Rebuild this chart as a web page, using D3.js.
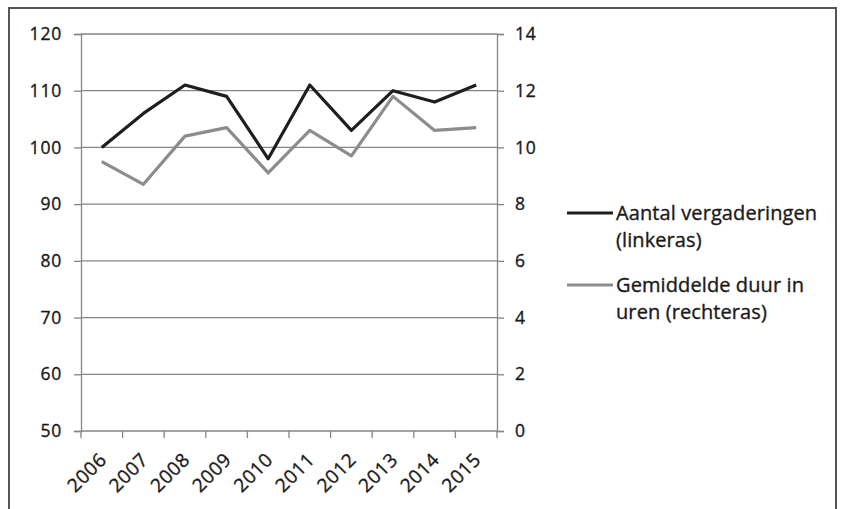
<!DOCTYPE html>
<html>
<head>
<meta charset="utf-8">
<script src="https://cdn.jsdelivr.net/npm/d3@7"></script>
<style>
  body { margin: 0; background: #fff; }
  svg { display: block; }
</style>
</head>
<body>
<div id="chart"></div>
<script>
// Jaren (categorieën)
const years = ['2006', '2007', '2008', '2009', '2010', '2011', '2012', '2013', '2014', '2015'];
// Aantal vergaderingen (linkeras)
const meetings = [100, 106, 111, 109, 98, 111, 103, 110, 108, 111];
// Gemiddelde duur in uren (rechteras)
const duration = [9.5, 8.7, 10.4, 10.7, 9.1, 10.6, 9.7, 11.8, 10.6, 10.7];
const leftTicks = [50, 60, 70, 80, 90, 100, 110, 120];
const rightTicks = [0, 2, 4, 6, 8, 10, 12, 14];

const W = 846, H = 509;
const FONT = '"Open Sans", Lato, sans-serif';
const COL = { ink: '#1a1a1a', grid: '#858585', dark: '#1e1e1e', light: '#8c8c8c' };

const svg = d3.select('#chart').append('svg')
  .attr('width', W).attr('height', H)
  .attr('viewBox', `0 0 ${W} ${H}`);

// Kader rond de grafiek
svg.append('rect')
  .attr('x', 9).attr('y', 8).attr('width', 827).attr('height', 520)
  .attr('fill', '#fff').attr('stroke', '#555').attr('stroke-width', 2);

const plot = { left: 81, right: 497, top: 34, bottom: 431 };

const x = d3.scaleBand().domain(years).range([plot.left, plot.right]);
const yL = d3.scaleLinear().domain([50, 120]).range([plot.bottom, plot.top]);
const yR = d3.scaleLinear().domain([0, 14]).range([plot.bottom, plot.top]);

// Rasterlijnen
svg.append('g').selectAll('line').data(leftTicks).join('line')
  .attr('x1', plot.left).attr('x2', plot.right)
  .attr('y1', d => yL(d)).attr('y2', d => yL(d))
  .attr('stroke', COL.grid).attr('stroke-width', 1.3);

// Linkeras
const gL = svg.append('g').attr('transform', `translate(${plot.left},0)`)
  .call(d3.axisLeft(yL).tickValues(leftTicks).tickSize(7).tickPadding(12));
// Rechteras
const gR = svg.append('g').attr('transform', `translate(${plot.right},0)`)
  .call(d3.axisRight(yR).tickValues(rightTicks).tickSize(7).tickPadding(11));
// X-as
const xTickPos = d3.range(years.length + 1).map(i => plot.left + i * x.step());
svg.append('g').selectAll('line').data(xTickPos).join('line')
  .attr('x1', d => d).attr('x2', d => d)
  .attr('y1', plot.bottom).attr('y2', plot.bottom + 7)
  .attr('stroke', COL.grid).attr('stroke-width', 1.3);

// iets zwaardere tekst, zoals in het origineel
const heavy = sel => sel.attr('stroke', COL.ink).attr('stroke-width', 0.35);

[gL, gR].forEach(g => {
  g.select('.domain').attr('stroke', COL.grid).attr('stroke-width', 1.3);
  g.selectAll('.tick line').attr('stroke', COL.grid).attr('stroke-width', 1.3);
  g.selectAll('.tick text')
    .attr('font-family', FONT).attr('font-size', 17.5).attr('fill', COL.ink)
    .attr('letter-spacing', 0.8)
    .call(heavy);
});

svg.append('g').selectAll('text').data(years).join('text')
  .attr('transform', d => `translate(${x(d) + x.bandwidth() / 2 + 6},${plot.bottom + 30}) rotate(-45)`)
  .attr('text-anchor', 'end')
  .attr('font-family', FONT).attr('font-size', 19).attr('fill', COL.ink)
  .attr('letter-spacing', 0.6)
  .call(heavy)
  .text(d => d);

// Lijnen
const cx = d => x(d) + x.bandwidth() / 2;
const lineL = d3.line().x((d, i) => cx(years[i])).y(d => yL(d));
const lineR = d3.line().x((d, i) => cx(years[i])).y(d => yR(d));

svg.append('path').datum(duration)
  .attr('d', lineR).attr('fill', 'none')
  .attr('stroke', COL.light).attr('stroke-width', 3.2).attr('stroke-linejoin', 'round');
svg.append('path').datum(meetings)
  .attr('d', lineL).attr('fill', 'none')
  .attr('stroke', COL.dark).attr('stroke-width', 3.2).attr('stroke-linejoin', 'round');

// Legenda
const legend = [
  { color: COL.dark, lines: ['Aantal vergaderingen', '(linkeras)'], y: 213 },
  { color: COL.light, lines: ['Gemiddelde duur in', 'uren (rechteras)'], y: 285 }
];
const lg = svg.append('g');
legend.forEach(item => {
  lg.append('line')
    .attr('x1', 567).attr('x2', 613).attr('y1', item.y).attr('y2', item.y)
    .attr('stroke', item.color).attr('stroke-width', 3.2);
  const t = lg.append('text')
    .attr('x', 616).attr('y', item.y)
    .attr('font-family', FONT).attr('font-size', 20).attr('fill', COL.ink)
    .attr('letter-spacing', 0.1)
    .call(heavy);
  item.lines.forEach((l, i) => {
    t.append('tspan').attr('x', 616).attr('dy', i === 0 ? '0.33em' : 27).text(l);
  });
});
</script>
</body>
</html>
